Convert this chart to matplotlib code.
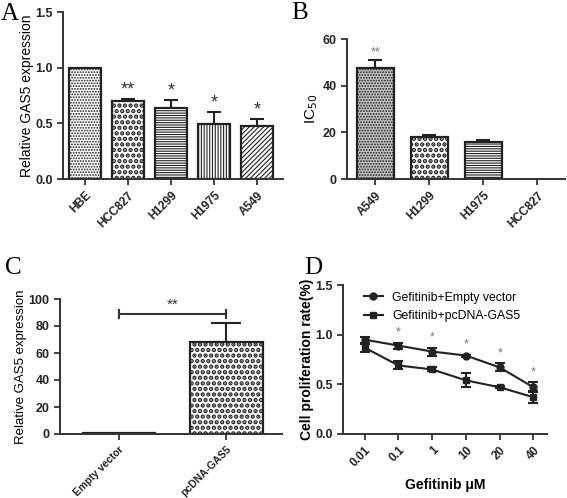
import numpy as np
import matplotlib
matplotlib.use("Agg")
import matplotlib.pyplot as plt
from matplotlib.lines import Line2D

plt.rcParams['font.family'] = ['Liberation Sans', 'DejaVu Sans']

# panel A data
a_cells = ['HBE', 'HCC827', 'H1299', 'H1975', 'A549']
a_vals = [1.0, 0.70, 0.64, 0.49, 0.48]
a_err = [0.0, 0.02, 0.07, 0.11, 0.06]
a_sig = ['', '**', '*', '*', '*']

# panel B data
b_cells = ['A549', 'H1299', 'H1975', 'HCC827']
b_vals = [47.5, 18.0, 16.0, 0.0]
b_err = [3.5, 0.7, 0.6, 0.0]

# panel C data
c_groups = ['Empty vector', 'pcDNA-GAS5']
c_vals = [1.0, 68.5]
c_err = [0.0, 13.5]

# panel D data
d_doses = ['0.01', '0.1', '1', '10', '20', '40']
d_empty = [0.95, 0.89, 0.83, 0.79, 0.67, 0.47]
d_empty_err = [0.03, 0.03, 0.04, 0.01, 0.04, 0.05]
d_gas5 = [0.87, 0.69, 0.65, 0.54, 0.47, 0.37]
d_gas5_err = [0.04, 0.04, 0.02, 0.07, 0.01, 0.06]
d_sig = ['', '*', '*', '*', '*', '*']

fig = plt.figure(figsize=(5.67, 4.98), dpi=100)
W, H = 567.0, 498.0
TICK = 9


def make_ax(x0, x1, ytop, ybot):
    ax = fig.add_axes([x0 / W, 1 - ybot / H, (x1 - x0) / W, (ybot - ytop) / H])
    for s in ['top', 'right']:
        ax.spines[s].set_visible(False)
    for s in ['left', 'bottom']:
        ax.spines[s].set_linewidth(1.4)
        ax.spines[s].set_color('#333333')
    ax.tick_params(axis='both', width=1.2, length=4, labelsize=TICK, colors='#222222')
    return ax


def style_xt(ax, labels, size=8.5):
    ax.set_xticklabels(labels, rotation=45, ha='right', rotation_mode='anchor',
                       fontweight='bold', fontsize=size)
    for lab in ax.get_yticklabels():
        lab.set_fontweight('bold')


def hbar(ax, x, h, w, hatch, hlw, face='white'):
    with plt.rc_context({'hatch.linewidth': hlw}):
        ax.bar(x, h, w, color=face, edgecolor='#222222', linewidth=1.6,
               hatch=hatch, zorder=2)


# ---- A ----
ax = make_ax(63, 283, 12, 179)
xa = np.arange(len(a_cells))
hatches = [('......', 0.9), ('...', 2.2), ('-------', 0.8), ('||||||', 0.8), ('///////', 0.8)]
for i in xa:
    hbar(ax, i, a_vals[i], 0.73, hatches[i][0], hatches[i][1])
    if a_err[i] > 0:
        ax.errorbar(i, a_vals[i], yerr=[[0], [a_err[i]]], color='#222222',
                    capsize=5, elinewidth=1.5, capthick=1.5, zorder=1)
    if a_sig[i]:
        ax.text(i, a_vals[i] + a_err[i] + 0.005, a_sig[i], ha='center', va='bottom',
                fontsize=13, color='#333333')
ax.set_xlim(-0.51, 4.6)
ax.set_ylim(0, 1.5)
ax.set_yticks([0, 0.5, 1.0, 1.5])
ax.set_yticklabels(['0.0', '0.5', '1.0', '1.5'])
ax.set_xticks(xa)
style_xt(ax, a_cells)
ax.set_ylabel('Relative GAS5 expression', fontsize=10, labelpad=1)

# ---- B ----
ax = make_ax(347, 565, 39, 179)
xb = np.arange(len(b_cells))
b_hatch = [('......', 0.9), ('...', 2.2), ('-------', 0.8), ('', 0.8)]
b_face = ['#c4c4c4', 'white', 'white', 'white']
for i in xb:
    if b_vals[i] <= 0:
        continue
    hbar(ax, i, b_vals[i], 0.68, b_hatch[i][0], b_hatch[i][1], b_face[i])
    ax.errorbar(i, b_vals[i], yerr=[[0], [b_err[i]]], color='#222222',
                capsize=5, elinewidth=1.5, capthick=1.5, zorder=1)
ax.text(0, b_vals[0] + b_err[0] + 0.8, '**', ha='center', va='bottom',
        fontsize=9, color='#777777')
ax.set_xlim(-0.52, 3.51)
ax.set_ylim(0, 60)
ax.set_yticks([0, 20, 40, 60])
ax.set_xticks(xb)
style_xt(ax, b_cells)
ax.set_ylabel('IC$_{50}$', fontsize=11, labelpad=2)

# ---- C ----
ax = make_ax(60, 282, 299, 434)
xc = np.arange(len(c_groups))
c_hatch = [('', 0.8), ('...', 2.2)]
for i in xc:
    hbar(ax, i, c_vals[i], 0.68, c_hatch[i][0], c_hatch[i][1])
    if c_err[i] > 0:
        ax.errorbar(i, c_vals[i], yerr=[[0], [c_err[i]]], color='#222222',
                    capsize=11, elinewidth=1.5, capthick=1.5, zorder=1)
ax.plot([0, 1], [89, 89], color='#333333', lw=1.5)
ax.plot([0, 0], [86, 92], color='#333333', lw=1.5)
ax.plot([1, 1], [86, 92], color='#333333', lw=1.5)
ax.text(0.5, 90.5, '**', ha='center', va='bottom', fontsize=11, color='#333333')
ax.set_xlim(-0.55, 1.52)
ax.set_ylim(0, 100)
ax.set_yticks([0, 20, 40, 60, 80, 100])
ax.set_xticks(xc)
style_xt(ax, c_groups, size=7.5)
ax.set_ylabel('Relative GAS5 expression', fontsize=9.5, labelpad=1)

# ---- D ----
ax = make_ax(343, 547, 285, 434)
xd = np.arange(len(d_doses))
ax.errorbar(xd, d_empty, yerr=d_empty_err, color='#222222', marker='o', ms=5,
            lw=1.5, capsize=3.5, elinewidth=1.5, capthick=1.5)
ax.errorbar(xd, d_gas5, yerr=d_gas5_err, color='#222222', marker='s', ms=5,
            lw=1.5, capsize=3.5, elinewidth=1.5, capthick=1.5)
for i in xd:
    if d_sig[i]:
        ax.text(i, d_empty[i] + d_empty_err[i] + 0.04, d_sig[i], ha='center',
                va='bottom', fontsize=9, color='#777777')
ax.set_xlim(-0.64, 5.4)
ax.set_ylim(0, 1.5)
ax.set_yticks([0, 0.5, 1.0, 1.5])
ax.set_yticklabels(['0.0', '0.5', '1.0', '1.5'])
ax.set_xticks(xd)
style_xt(ax, d_doses)
ax.set_xlabel('Gefitinib \u03bcM', fontsize=10, fontweight='bold', labelpad=6)
ax.set_ylabel('Cell proliferation rate(%)', fontsize=10, fontweight='bold', labelpad=1)
handles = [Line2D([], [], color='#222222', marker='o', ms=5, lw=1.5),
           Line2D([], [], color='#222222', marker='s', ms=5, lw=1.5)]
ax.legend(handles, ['Gefitinib+Empty vector', 'Gefitinib+pcDNA-GAS5'],
          loc='upper left', bbox_to_anchor=(0.05, 1.03), frameon=False,
          fontsize=8.8, handlelength=1.5, labelspacing=0.55)

# panel letters
for letter, (x, y) in zip('ABCD', [(10, 14), (300, 13), (13, 268), (313, 268)]):
    fig.text(x / W, 1 - y / H, letter, fontsize=18, family='Liberation Serif',
             ha='center', va='center')

fig.savefig('out.png', dpi=100)
